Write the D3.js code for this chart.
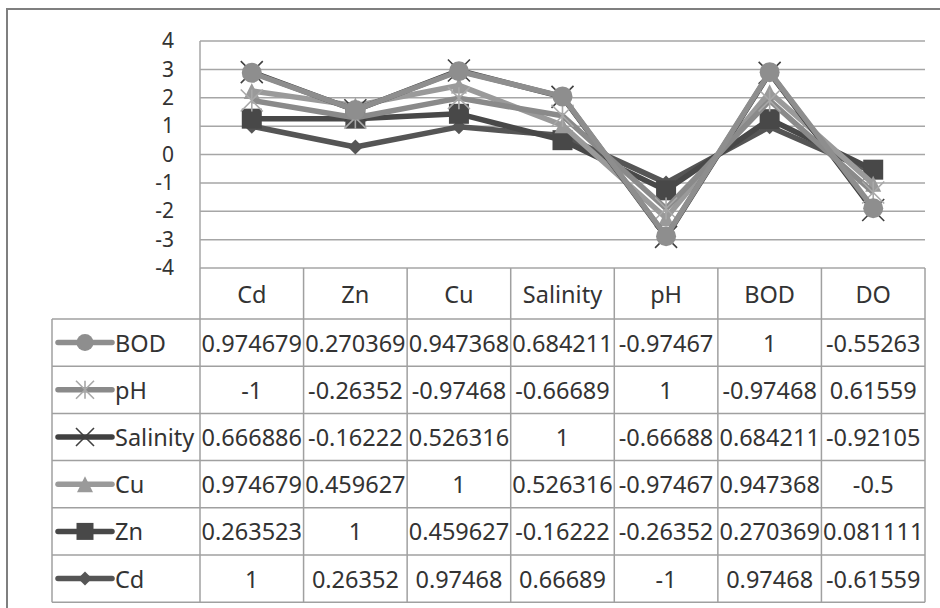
<!DOCTYPE html>
<html>
<head>
<meta charset="utf-8">
<script src="https://cdn.jsdelivr.net/npm/d3@7"></script>
<style>
  html, body { margin: 0; padding: 0; background: #fff; }
  svg { display: block; font-family: "Noto Sans", "Open Sans", sans-serif; }
</style>
</head>
<body>
<svg id="chart" width="940" height="608"></svg>
<script>
// Categories along the x axis (also the table header)
const categories = ["Cd", "Zn", "Cu", "Salinity", "pH", "BOD", "DO"];

// Series values (correlation coefficients), stacked bottom to top in this order
const cdValues       = [1, 0.26352, 0.97468, 0.66689, -1, 0.97468, -0.61559];
const znValues       = [0.263523, 1, 0.459627, -0.16222, -0.26352, 0.270369, 0.081111];
const cuValues       = [0.974679, 0.459627, 1, 0.526316, -0.97467, 0.947368, -0.5];
const salinityValues = [0.666886, -0.16222, 0.526316, 1, -0.66688, 0.684211, -0.92105];
const phValues       = [-1, -0.26352, -0.97468, -0.66689, 1, -0.97468, 0.61559];
const bodValues      = [0.974679, 0.270369, 0.947368, 0.684211, -0.97467, 1, -0.55263];

const seriesNames = ["Cd", "Zn", "Cu", "Salinity", "pH", "BOD"];
const yTicks = [4, 3, 2, 1, 0, -1, -2, -3, -4];

const seriesValues = [cdValues, znValues, cuValues, salinityValues, phValues, bodValues];
const seriesStyle = {
  "Cd":       { color: "#555555", marker: "diamond" },
  "Zn":       { color: "#484848", marker: "square" },
  "Cu":       { color: "#9a9a9a", marker: "triangle" },
  "Salinity": { color: "#404040", marker: "x" },
  "pH":       { color: "#8a8a8a", marker: "star" },
  "BOD":      { color: "#8e8e8e", marker: "circle" }
};

// Stacked line totals: each series sits on the running sum of the ones below it
const cumulative = seriesNames.map((s, k) =>
  categories.map((c, i) => d3.sum(seriesValues.slice(0, k + 1), v => v[i])));

const svg = d3.select("#chart");

// Outer chart frame
svg.append("rect").attr("x", 7).attr("y", 9).attr("width", 950).attr("height", 620)
  .attr("fill", "none").attr("stroke", "#7f7f7f").attr("stroke-width", 2);

const plot = { left: 200, right: 925, top: 41, bottom: 268 };
const x = d3.scaleBand().domain(categories).range([plot.left, plot.right]).padding(0);
const y = d3.scaleLinear().domain([-4, 4]).range([plot.bottom, plot.top]);
const gridColor = "#a6a6a6";

// Horizontal gridlines
svg.append("g").selectAll("line").data(yTicks).join("line")
  .attr("x1", plot.left).attr("x2", plot.right)
  .attr("y1", d => y(d)).attr("y2", d => y(d))
  .attr("stroke", gridColor).attr("stroke-width", 1.5);
// Vertical axis line
svg.append("line").attr("x1", plot.left).attr("x2", plot.left)
  .attr("y1", plot.top).attr("y2", plot.bottom)
  .attr("stroke", gridColor).attr("stroke-width", 1.5);

// Y axis labels
const yAxis = d3.axisLeft(y).tickValues(yTicks).tickSize(0).tickPadding(26).tickFormat(d => String(d));
const ya = svg.append("g").attr("transform", `translate(${plot.left},0)`).call(yAxis);
ya.select(".domain").remove();
ya.selectAll("text").attr("font-size", 21).attr("fill", "#333").attr("font-family", "Noto Sans");

// Marker shapes
function markerPath(type, s) {
  const p = d3.path();
  switch (type) {
    case "circle": p.arc(0, 0, s / 2, 0, 2 * Math.PI); break;
    case "square": p.rect(-s / 2, -s / 2, s, s); break;
    case "diamond": p.moveTo(0, -s / 2); p.lineTo(s / 2, 0); p.lineTo(0, s / 2); p.lineTo(-s / 2, 0); p.closePath(); break;
    case "triangle": p.moveTo(0, -s / 2); p.lineTo(s / 2, s / 2); p.lineTo(-s / 2, s / 2); p.closePath(); break;
    case "x": p.moveTo(-s / 2, -s / 2); p.lineTo(s / 2, s / 2); p.moveTo(s / 2, -s / 2); p.lineTo(-s / 2, s / 2); break;
    case "star":
      p.moveTo(-s / 2, -s / 2); p.lineTo(s / 2, s / 2); p.moveTo(s / 2, -s / 2); p.lineTo(-s / 2, s / 2);
      p.moveTo(0, -s / 2); p.lineTo(0, s / 2); break;
  }
  return p.toString();
}
const plotMarkerSize = { circle: 20, square: 20, diamond: 15, triangle: 16, x: 22, star: 22 };
const legendMarkerSize = { circle: 17, square: 17, diamond: 14, triangle: 16, x: 18, star: 18 };

function drawMarker(g, type, color, size, tx, ty) {
  const lineType = type === "x" || type === "star";
  g.append("path").attr("d", markerPath(type, size))
    .attr("transform", `translate(${tx},${ty})`)
    .attr("fill", lineType ? "none" : color)
    .attr("stroke", lineType ? (type === "star" ? "#a8a8a8" : color) : "none")
    .attr("stroke-width", lineType ? 1.6 : 0);
}

// Stacked lines, first series drawn first
const line = d3.line().x((d, i) => x(categories[i]) + x.bandwidth() / 2).y(d => y(d));
const linesG = svg.append("g");
seriesNames.forEach((s, k) => {
  const st = seriesStyle[s];
  const g = linesG.append("g");
  g.append("path").datum(cumulative[k]).attr("d", line)
    .attr("fill", "none").attr("stroke", st.color).attr("stroke-width", 5.5)
    .attr("stroke-linejoin", "round");
  cumulative[k].forEach((v, i) => {
    drawMarker(g, st.marker, st.color, plotMarkerSize[st.marker],
      x(categories[i]) + x.bandwidth() / 2, y(v));
  });
});

// Data table
const tableColor = "#a0a0a0";
const headerBottom = 319;
const rowH = 47.2;
const tableLeft = 52;
const tableSeries = seriesNames.slice().reverse();
const tableBottom = headerBottom + rowH * tableSeries.length;
const tg = svg.append("g");
const fs = 23.5;

// Header row cells
categories.forEach((c, i) => {
  tg.append("text").attr("x", x(c) + x.bandwidth() / 2).attr("y", (plot.bottom + headerBottom) / 2)
    .attr("text-anchor", "middle").attr("dominant-baseline", "central")
    .attr("font-size", fs).attr("fill", "#333").text(c);
});
// Column separators
d3.range(categories.length + 1).forEach(i => {
  const xx = i < categories.length ? x(categories[i]) : plot.right;
  tg.append("line").attr("x1", xx).attr("x2", xx).attr("y1", plot.bottom).attr("y2", tableBottom)
    .attr("stroke", tableColor).attr("stroke-width", 1.5);
});
tg.append("line").attr("x1", tableLeft).attr("x2", tableLeft).attr("y1", headerBottom).attr("y2", tableBottom)
  .attr("stroke", tableColor).attr("stroke-width", 1.5);
// Row separators
d3.range(tableSeries.length + 1).forEach(r => {
  const yy = headerBottom + r * rowH;
  tg.append("line").attr("x1", tableLeft).attr("x2", plot.right).attr("y1", yy).attr("y2", yy)
    .attr("stroke", tableColor).attr("stroke-width", 1.5);
});
// Rows: legend key + values
tableSeries.forEach((s, r) => {
  const st = seriesStyle[s];
  const vals = seriesValues[seriesNames.indexOf(s)];
  const cy = headerBottom + r * rowH + rowH / 2;
  tg.append("line").attr("x1", 58).attr("x2", 112).attr("y1", cy).attr("y2", cy)
    .attr("stroke", st.color).attr("stroke-width", 5.5).attr("stroke-linecap", "round");
  drawMarker(tg, st.marker, st.color, legendMarkerSize[st.marker], 85, cy);
  tg.append("text").attr("x", 115).attr("y", cy).attr("dominant-baseline", "central")
    .attr("font-size", fs).attr("fill", "#333").text(s);
  vals.forEach((v, i) => {
    tg.append("text").attr("x", x(categories[i]) + x.bandwidth() / 2).attr("y", cy)
      .attr("text-anchor", "middle").attr("dominant-baseline", "central")
      .attr("font-size", fs).attr("fill", "#333").text(String(v));
  });
});
</script>
</body>
</html>
